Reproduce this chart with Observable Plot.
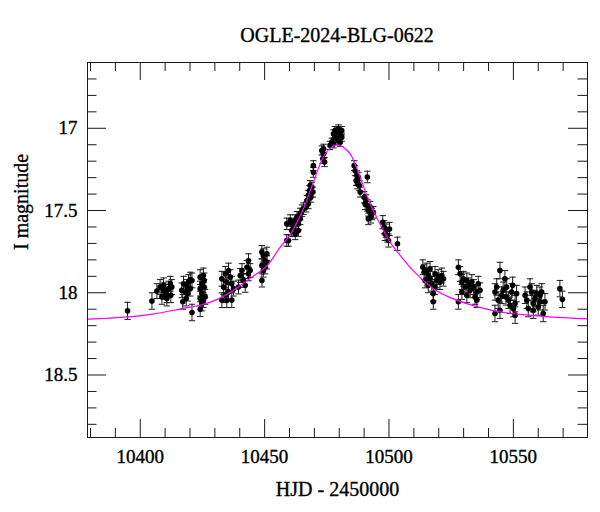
<!DOCTYPE html>
<html><head><meta charset="utf-8">
<script src="https://cdn.jsdelivr.net/npm/d3@7"></script>
<script src="https://cdn.jsdelivr.net/npm/@observablehq/plot@0.6"></script>
<style>
body{margin:0;background:#fff;}
#title{height:20px;padding-top:24px;padding-left:87px;width:500px;text-align:center;font-family:"Liberation Serif",serif;font-size:20px;line-height:22px;color:#000;white-space:nowrap;overflow:visible;-webkit-text-stroke:0.35px #000;}
#chart svg text{stroke:#000;stroke-width:0.35px;}
</style></head><body>
<div id="title">OGLE-2024-BLG-0622</div>
<div id="chart"></div>
<script>
const titleText = "OGLE-2024-BLG-0622";
const xLabel = "HJD - 2450000";
const yLabel = "I magnitude";
const xDomain = [10378.8, 10579.8];
const yDomain = [16.6, 18.88];
const xMajor = [10400, 10450, 10500, 10550];
const xMinor = [10380,10390,10410,10420,10430,10440,10460,10470,10480,10490,10510,10520,10530,10540,10560,10570];
const yMajor = [17, 17.5, 18, 18.5];
const yMinor = [16.7,16.8,16.9,17.1,17.2,17.3,17.4,17.6,17.7,17.8,17.9,18.1,18.2,18.3,18.4,18.6,18.7,18.8];

const hjd = [
  10394.9,10404.7,
  10406.7,10408.0,10409.4,10410.0,10410.7,10411.4,10412.1,10412.7,10408.7,10410.7,10412.3,10409.4,
  10416.7,10417.4,10418.1,10418.8,10419.4,10420.1,10420.8,10419.0,10417.1,10420.1,10418.5,10420.8,
  10424.1,10425.4,10424.8,10424.1,10425.7,10424.8,10424.1,10425.4,10426.1,10424.1,10424.8,10425.7,
  10432.8,10433.5,10434.2,10434.8,10435.5,10436.2,10436.8,10435.5,10434.2,10432.8,10437.5,10434.8,10436.8,
  10439.5,10440.2,10440.9,10441.5,10442.9,10443.5,10443.5,10442.2,10444.2,
  10448.9,10449.5,10450.2,10450.9,10448.9,10449.5,10450.2,10448.9,10450.9,
  10458.9,10459.6,10458.9,10460.3,10461.6,10462.3,10463.0,10463.6,10464.3,10465.0,10460.9,10462.3,10463.6,10464.3,10465.6,10460.9,10461.6,
  10466.7,10467.0,10467.6,10468.0,10468.3,10469.0,10467.6,10468.6,10469.4,
  10469.6,10469.6,
  10473.0,10473.7,10473.4,10474.1,10473.7,
  10477.0,10477.7,10478.3,10479.0,10479.7,10480.4,10481.0,10479.0,10477.7,10479.7,10481.0,10476.3,10478.3,10480.4,
  10486.0,10486.4,10487.1,10486.8,10487.7,10488.1,10488.4,10487.3,10491.3,
  10490.0,10490.8,10491.3,10491.7,10492.4,10493.1,10493.7,10491.7,10490.4,10492.7,
  10497.5,10498.0,10498.8,10499.4,10499.8,10498.4,10500.2,10503.4,
  10513.6,10514.1,10514.5,10515.2,10515.8,10516.5,10517.2,10517.8,10517.8,10518.5,10519.2,10519.8,10520.5,10521.2,10521.9,10516.5,10518.5,10515.8,
  10527.9,10528.6,10527.9,10529.3,10529.9,10530.6,10531.3,10531.9,10532.6,10533.3,10534.0,10534.6,10535.3,10535.9,10536.6,10535.3,10531.3,10529.3,
  10542.6,10542.6,10543.3,10543.9,10544.6,10544.6,10545.3,10545.9,10546.6,10547.3,10548.0,10548.7,10549.3,10550.0,10550.7,10551.3,10547.0,10549.7,10550.7,
  10554.7,10555.4,10556.0,10556.7,10557.4,10558.0,10558.7,10559.4,10560.0,10560.7,10561.4,10562.0,10562.7,10558.0,10560.7,
  10568.7,10569.7
];
const mag = [
  18.11,18.05,
  17.99,17.965,17.955,17.995,18.015,17.975,17.945,17.965,18.025,18.035,18.015,17.985,
  17.985,17.945,17.995,17.965,17.935,17.92,17.925,18.005,18.055,17.975,18.035,18.12,
  17.905,17.895,17.945,17.975,17.965,18.005,18.035,18.045,18.025,18.10,18.065,17.925,
  17.915,17.965,17.885,17.935,17.865,17.905,17.945,17.995,18.015,18.045,17.975,18.045,18.045,
  17.965,17.895,17.865,17.925,17.845,17.805,17.885,17.955,17.865,
  17.753,17.773,17.805,17.763,17.835,17.865,17.845,17.925,17.815,
  17.682,17.682,17.581,17.561,17.602,17.642,17.541,17.581,17.521,17.501,17.622,17.561,17.622,17.551,17.489,17.581,17.622,
  17.479,17.439,17.408,17.378,17.348,17.358,17.459,17.419,17.388,
  17.227,17.268,
  17.135,17.155,17.185,17.205,17.125,
  17.085,17.034,17.014,17.024,17.004,17.034,17.054,17.064,17.094,17.075,17.014,17.104,17.054,17.085,
  17.227,17.258,17.288,17.318,17.298,17.348,17.388,17.338,17.296,
  17.419,17.439,17.469,17.499,17.479,17.521,17.511,17.551,17.459,17.541,
  17.571,17.602,17.622,17.652,17.682,17.642,17.612,17.702,
  17.845,17.875,17.925,17.865,17.895,17.915,17.945,18.005,18.055,17.885,17.925,17.905,17.935,17.895,17.915,17.855,17.965,17.955,
  17.845,17.885,18.055,17.935,17.915,17.965,17.925,17.955,17.985,17.935,17.965,18.025,17.995,17.945,17.985,18.045,18.015,17.995,
  17.995,18.126,17.965,18.045,17.865,18.106,18.015,17.985,17.915,17.965,18.045,18.076,17.995,18.096,18.136,18.005,18.025,17.955,18.066,
  18.015,18.045,18.096,17.965,17.995,18.066,18.035,18.005,18.086,18.055,17.995,18.126,18.055,18.106,18.015,
  17.975,18.04
];
const err = [
  .052,.05,
  .045,.045,.045,.045,.045,.045,.045,.045,.045,.045,.045,.045,
  .045,.045,.045,.045,.045,.045,.045,.045,.045,.045,.045,.05,
  .045,.045,.045,.045,.045,.045,.045,.045,.045,.045,.045,.045,
  .045,.045,.045,.045,.045,.045,.045,.045,.045,.045,.045,.045,.045,
  .042,.042,.042,.042,.042,.042,.042,.042,.042,
  .04,.04,.04,.04,.04,.04,.04,.04,.04,
  .035,.035,.035,.035,.035,.035,.035,.035,.035,.035,.035,.035,.035,.035,.035,.035,.035,
  .03,.03,.03,.03,.03,.03,.03,.03,.03,
  .03,.03,
  .028,.028,.028,.028,.028,
  .025,.025,.025,.025,.025,.025,.025,.025,.025,.025,.025,.025,.025,.025,
  .03,.03,.03,.03,.03,.03,.03,.03,.035,
  .035,.035,.035,.035,.035,.035,.035,.035,.035,.035,
  .04,.04,.04,.04,.04,.04,.04,.04,
  .045,.045,.045,.045,.045,.045,.045,.045,.045,.045,.045,.045,.045,.045,.045,.045,.045,.045,
  .045,.045,.045,.045,.045,.045,.045,.045,.045,.045,.045,.045,.045,.045,.045,.045,.045,.045,
  .05,.05,.05,.05,.05,.05,.05,.05,.05,.05,.05,.05,.05,.05,.05,.05,.05,.05,.05,
  .05,.05,.05,.05,.05,.05,.05,.05,.05,.05,.05,.05,.05,.05,.05,
  .05,.05
];
const modelT = [10378.8,10384,10395,10405,10417,10424,10431,10437.5,10444,10451,10456,10460,10463,10466,10469.6,10473.6,10476.5,10479,10481.5,10484.4,10488.4,10492.4,10496.4,10500.4,10504.5,10510,10517.8,10524,10531.3,10538,10544.6,10555,10564.7,10579.8];
const modelMag = [18.16,18.157,18.147,18.13,18.096,18.076,18.04,17.985,17.915,17.835,17.728,17.653,17.573,17.476,17.328,17.175,17.119,17.101,17.114,17.155,17.298,17.459,17.581,17.692,17.773,17.87,17.975,18.025,18.066,18.095,18.116,18.135,18.147,18.159];

const pts = hjd.map((t, i) => ({t, m: mag[i], e: err[i]}));
const model = modelT.map((t, i) => ({t, m: modelMag[i]}));

const W = 600, H = 468, mt = 18, mb = 75, ml = 87, mr = 13;
const PW = W - ml - mr, PH = H - mt - mb;
const ink = "#1a1a1a";
const cap = {draw(ctx, size) { const r = Math.sqrt(size / Math.PI); ctx.moveTo(-r, 0); ctx.lineTo(r, 0); }};

const chart = Plot.plot({
  width: W, height: H,
  marginTop: mt, marginBottom: mb, marginLeft: ml, marginRight: mr,
  style: {fontFamily: '"Liberation Serif", serif', fontSize: "19px", background: "white", color: "black", overflow: "visible"},
  x: {domain: xDomain, label: null},
  y: {domain: yDomain, reverse: true, label: null},
  marks: [
    Plot.ruleX(pts, {x: "t", y1: d => d.m - d.e, y2: d => d.m + d.e, stroke: ink, strokeWidth: 1}),
    Plot.dot(pts, {x: "t", y: d => d.m - d.e, symbol: cap, r: 3.2, stroke: ink, fill: "none", strokeWidth: 1}),
    Plot.dot(pts, {x: "t", y: d => d.m + d.e, symbol: cap, r: 3.2, stroke: ink, fill: "none", strokeWidth: 1}),
    Plot.dot(pts, {x: "t", y: "m", r: 2.8, fill: "black", stroke: "none"}),
    Plot.line(model, {x: "t", y: "m", stroke: "#ff00ff", strokeWidth: 1.2, curve: "catmull-rom"}),
    Plot.tickX(xMinor, {x: d => d, insetTop: PH - 9, stroke: ink}),
    Plot.tickX(xMinor, {x: d => d, insetBottom: PH - 9, stroke: ink}),
    Plot.tickX(xMajor, {x: d => d, insetTop: PH - 18, stroke: ink}),
    Plot.tickX(xMajor, {x: d => d, insetBottom: PH - 18, stroke: ink}),
    Plot.tickY(yMinor, {y: d => d, insetRight: PW - 9.5, stroke: ink}),
    Plot.tickY(yMinor, {y: d => d, insetLeft: PW - 9.5, stroke: ink}),
    Plot.tickY(yMajor, {y: d => d, insetRight: PW - 19, stroke: ink}),
    Plot.tickY(yMajor, {y: d => d, insetLeft: PW - 19, stroke: ink}),
    Plot.frame({stroke: ink}),
    Plot.axisX({ticks: xMajor, tickSize: 0, tickPadding: 12, tickFormat: d => String(d), label: null}),
    Plot.axisY({ticks: yMajor, tickSize: 0, tickPadding: 10, tickFormat: d => String(d), label: null}),
    Plot.text([xLabel], {text: d => d, frameAnchor: "bottom", dy: 52, lineAnchor: "middle", fontSize: 20}),
    Plot.text([yLabel], {text: d => d, frameAnchor: "left", dx: -66, rotate: -90, lineAnchor: "middle", fontSize: 20})
  ]
});
document.getElementById("chart").appendChild(chart);
document.getElementById("title").textContent = titleText;
</script></body></html>
